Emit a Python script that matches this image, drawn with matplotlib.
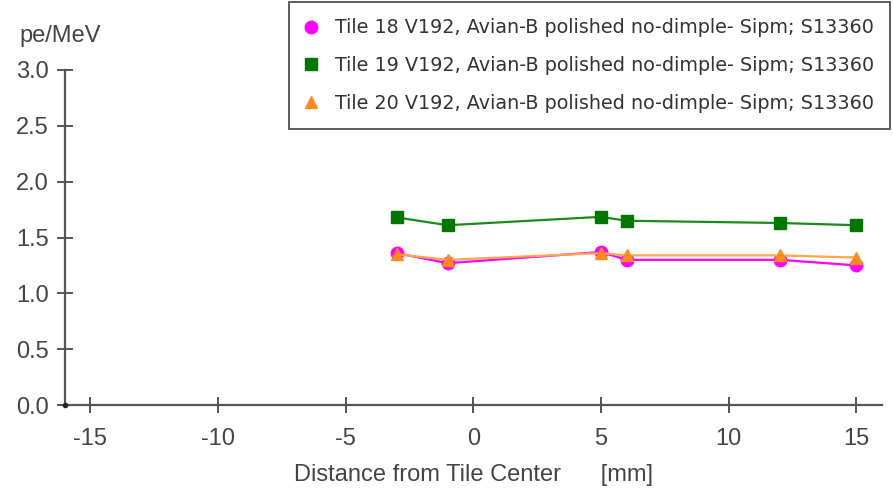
import numpy as np
import matplotlib
matplotlib.use('Agg')
import matplotlib.pyplot as plt

# data
dist = [-3, -1, 5, 6, 12, 15]
tile18 = [1.36, 1.27, 1.37, 1.30, 1.30, 1.25]
tile19 = [1.68, 1.61, 1.685, 1.65, 1.63, 1.61]
tile20 = [1.35, 1.30, 1.36, 1.34, 1.34, 1.32]
labels = ['Tile 18 V192, Avian-B polished no-dimple- Sipm; S13360',
          'Tile 19 V192, Avian-B polished no-dimple- Sipm; S13360',
          'Tile 20 V192, Avian-B polished no-dimple- Sipm; S13360']
xticks = [-15, -10, -5, 0, 5, 10, 15]
yticks = [0.0, 0.5, 1.0, 1.5, 2.0, 2.5, 3.0]

axis_col = '#555555'
text_col = '#444444'
fs = 17

fig = plt.figure(figsize=(8.93, 4.88), dpi=100)
ax = fig.add_axes([64.5 / 893, 1 - 405 / 488, (882 - 64.5) / 893, (405 - 70) / 488])

ax.plot(dist, tile18, color='#ff00ff', lw=1.6, marker='o', ms=9, clip_on=False, label=labels[0])
ax.plot(dist, tile19, color='#1a8a1a', lw=1.6, marker='s', ms=8.5, mfc='#007800', mec='#007800',
        clip_on=False, label=labels[1])
ax.plot(dist, tile20, color='#ffa64d', lw=1.6, marker='^', ms=9, mfc='#ff8a1f', mec='#ff8a1f',
        clip_on=False, label=labels[2])

ax.set_xlim(-16, 16)
ax.set_ylim(0, 3.0)
ax.plot([-16], [0], 'o', color='#222222', ms=3, clip_on=False, zorder=5)

for s in ['top', 'right']:
    ax.spines[s].set_visible(False)
for s in ['left', 'bottom']:
    ax.spines[s].set_color(axis_col)
    ax.spines[s].set_linewidth(1.6)

ax.set_xticks(xticks)
ax.set_yticks(yticks)
ax.set_xticklabels([str(v) for v in xticks])
ax.set_yticklabels(['%.1f' % v for v in yticks])
ax.tick_params(direction='inout', length=11, width=1.4, color=axis_col,
               labelcolor=text_col, labelsize=fs)
ax.tick_params(axis='x', pad=11)
ax.tick_params(axis='y', pad=6)
for lab in ax.get_xticklabels() + ax.get_yticklabels():
    lab.set_fontfamily('Liberation Sans')

ax.set_xlabel('Distance from Tile Center      [mm]', fontsize=fs, color=text_col,
              family='Liberation Sans', labelpad=10)
fig.text(60 / 893, 1 - 36 / 488, 'pe/MeV', fontsize=fs, color=text_col,
         family='Liberation Sans', ha='center', va='center')

leg = fig.legend(loc='upper right', bbox_to_anchor=(890 / 893, 1 - 2 / 488),
                 prop={'family': 'DejaVu Sans', 'size': 13.8}, frameon=True, fancybox=False,
                 handlelength=0.6, handletextpad=0.95, borderpad=0.85, labelspacing=0.98,
                 borderaxespad=0)
leg.get_frame().set_edgecolor('#333333')
leg.get_frame().set_linewidth(1.4)
for h in leg.get_lines():
    h.set_linestyle('none')
for t in leg.get_texts():
    t.set_color('#333333')

fig.savefig('out.png', dpi=100)
